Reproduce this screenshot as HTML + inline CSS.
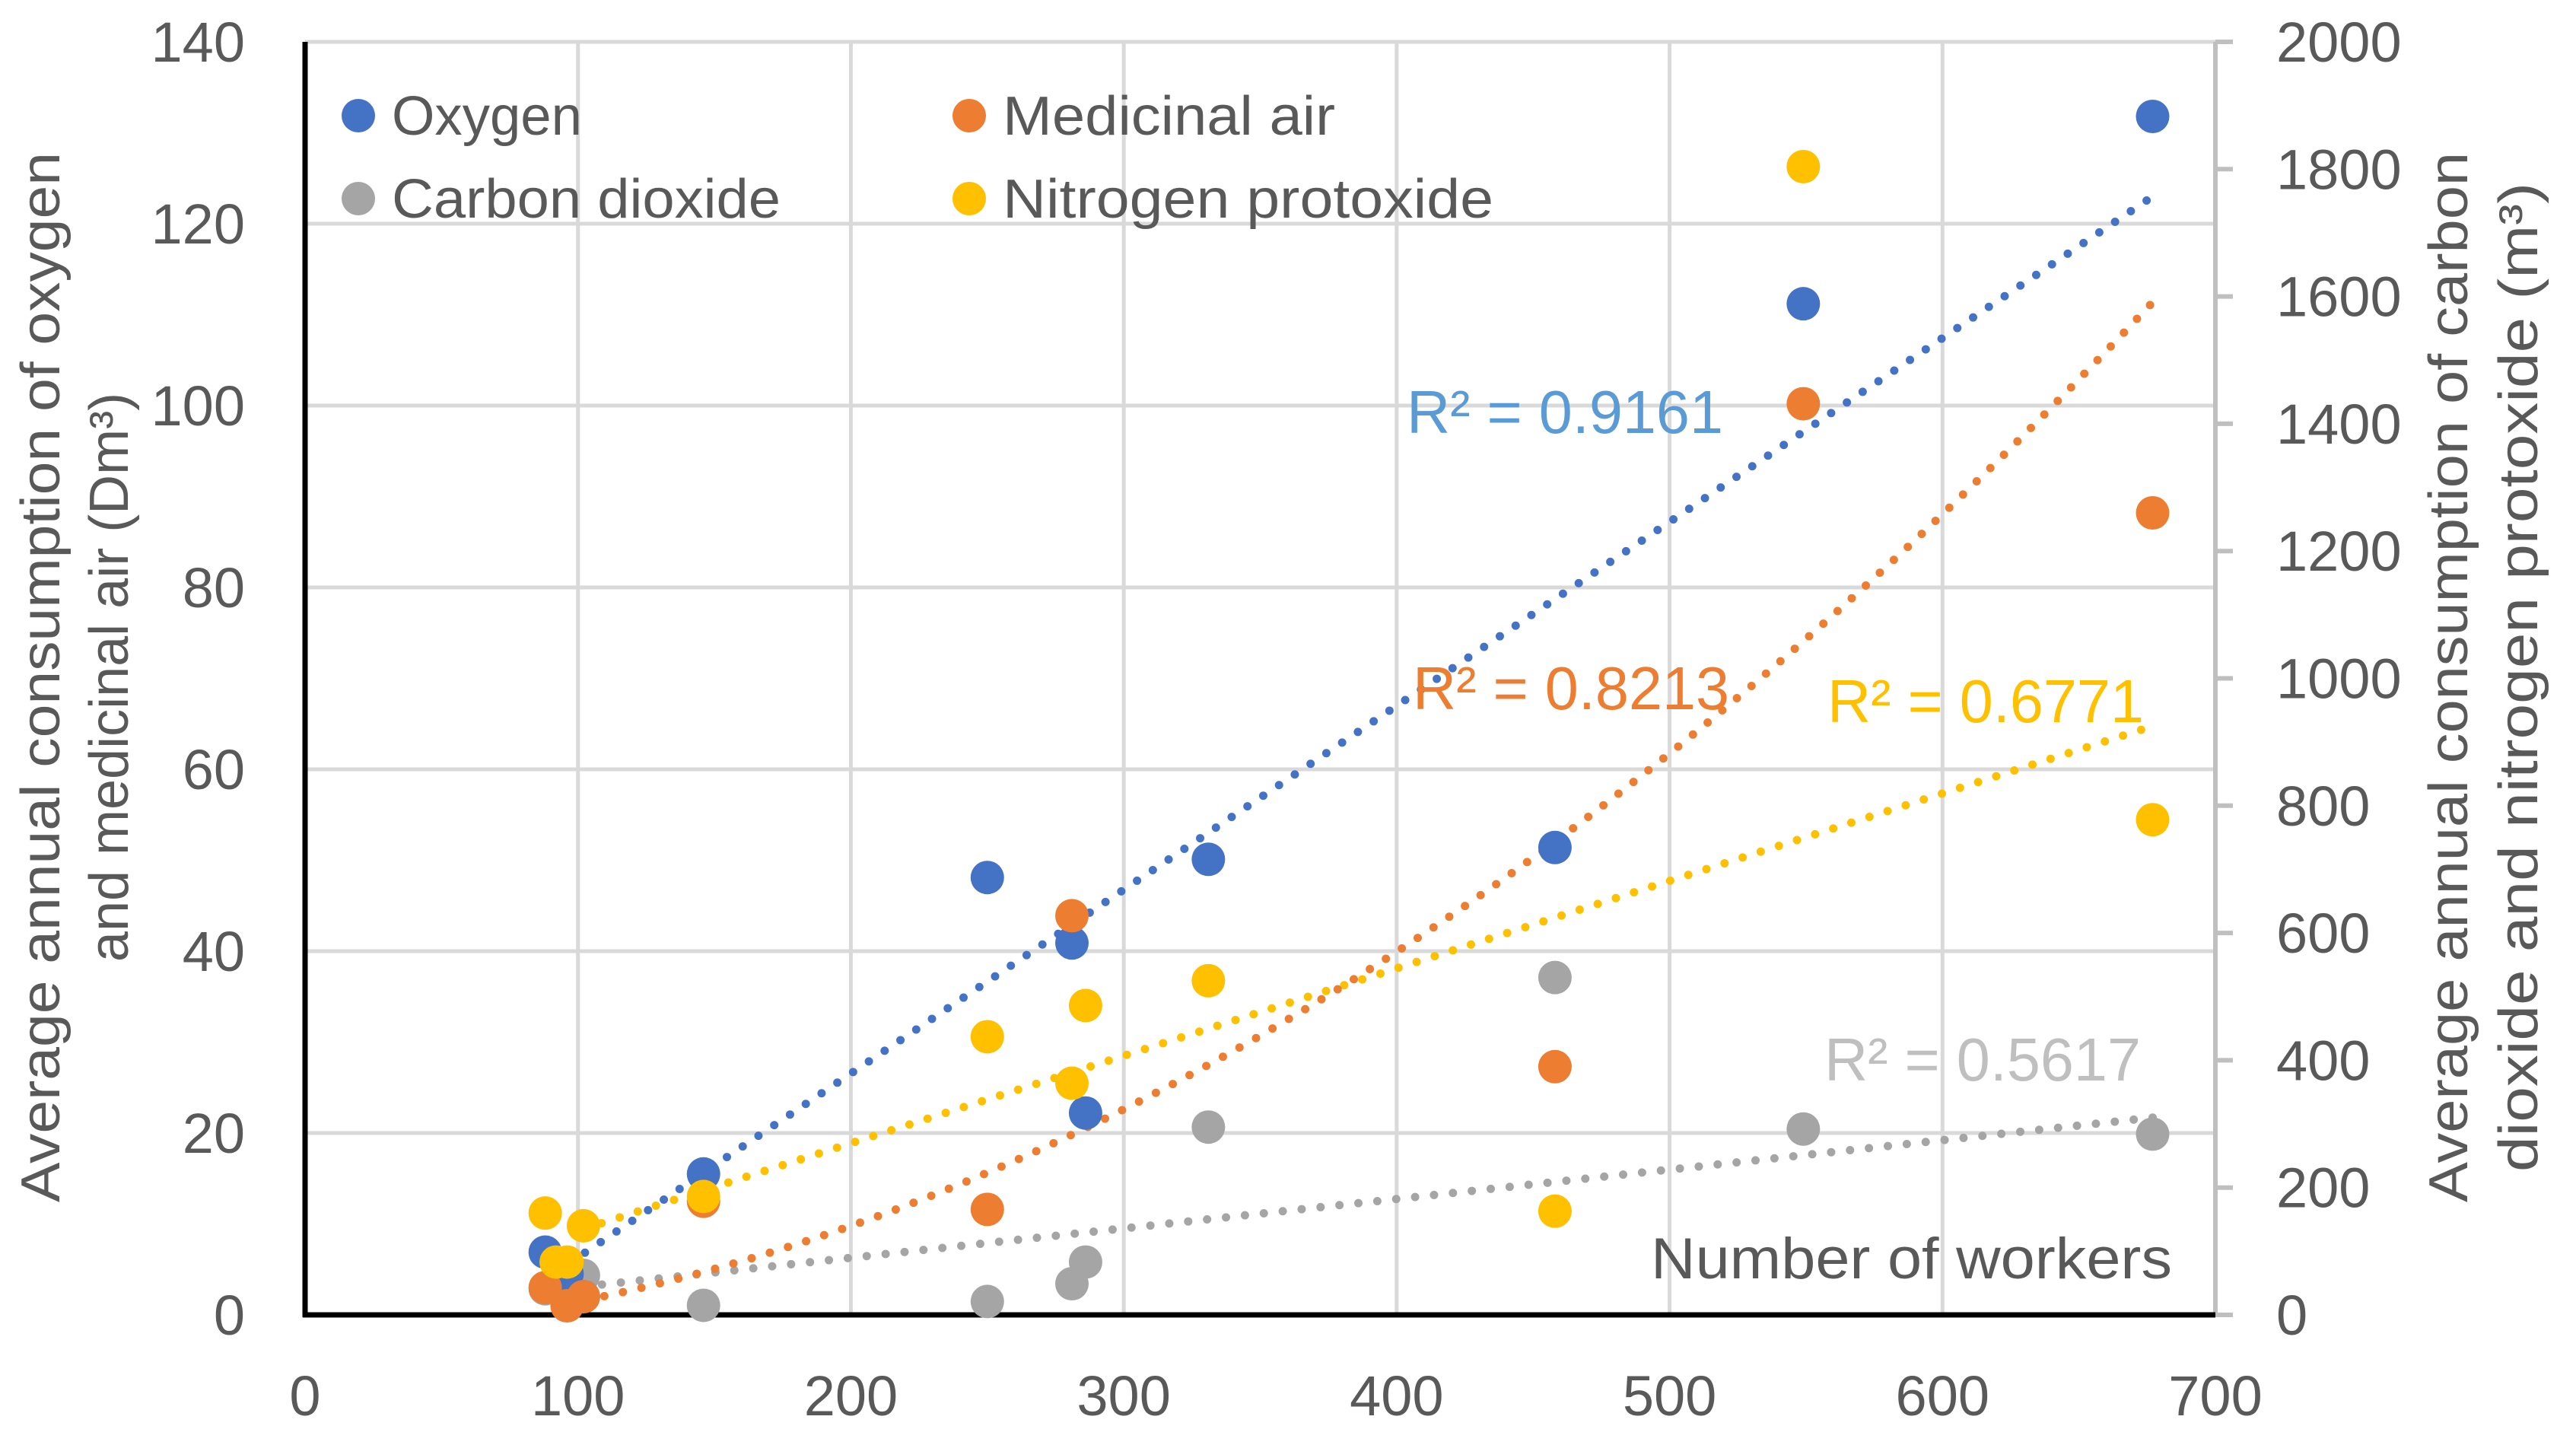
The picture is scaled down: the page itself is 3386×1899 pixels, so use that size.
<!DOCTYPE html>
<html><head><meta charset="utf-8"><style>
html,body{margin:0;padding:0;background:#fff;}
svg{display:block;font-family:"Liberation Sans",sans-serif;}
</style></head><body>
<svg id="chart" width="3386" height="1899" viewBox="0 0 3386 1899" xmlns="http://www.w3.org/2000/svg">
<g id="grid"></g>
<g id="axes"></g>
<g id="trends"></g>
<g id="marks"></g>
<g id="legend">
  <g><circle cx="471" cy="152" r="22" fill="#4472c4"/><text x="515" y="177" font-size="72" fill="#595959" textLength="250" lengthAdjust="spacingAndGlyphs">Oxygen</text></g>
  <g><circle cx="1274" cy="152" r="22" fill="#ed7d31"/><text x="1318" y="177" font-size="72" fill="#595959" textLength="437" lengthAdjust="spacingAndGlyphs">Medicinal air</text></g>
  <g><circle cx="471" cy="261" r="22" fill="#a5a5a5"/><text x="515" y="286" font-size="72" fill="#595959" textLength="511" lengthAdjust="spacingAndGlyphs">Carbon dioxide</text></g>
  <g><circle cx="1274" cy="261" r="22" fill="#ffc000"/><text x="1318" y="286" font-size="72" fill="#595959" textLength="645" lengthAdjust="spacingAndGlyphs">Nitrogen protoxide</text></g>
</g>
<text x="1849" y="569" font-size="80" fill="#5b9bd5" textLength="416" lengthAdjust="spacingAndGlyphs">R² = 0.9161</text>
<text x="1857" y="932" font-size="80" fill="#ed7d31" textLength="416" lengthAdjust="spacingAndGlyphs">R² = 0.8213</text>
<text x="2402" y="949" font-size="80" fill="#ffc000" textLength="416" lengthAdjust="spacingAndGlyphs">R² = 0.6771</text>
<text x="2398" y="1420" font-size="80" fill="#bfbfbf" textLength="416" lengthAdjust="spacingAndGlyphs">R² = 0.5617</text>
<text x="2170" y="1680" font-size="76" fill="#595959" textLength="685" lengthAdjust="spacingAndGlyphs">Number of workers</text>
<g font-size="72" fill="#595959" text-anchor="middle">
  <text transform="translate(78,890) rotate(-90)" textLength="1380" lengthAdjust="spacingAndGlyphs">Average annual consumption of oxygen</text>
  <text transform="translate(168,890) rotate(-90)">and medicinal air (Dm³)</text>
</g>
<g font-size="72" fill="#595959" text-anchor="middle">
  <text transform="translate(3243,890) rotate(-90)" textLength="1380" lengthAdjust="spacingAndGlyphs">Average annual consumption of carbon</text>
  <text transform="translate(3335,890) rotate(-90)" textLength="1300" lengthAdjust="spacingAndGlyphs">dioxide and nitrogen protoxide (m³)</text>
</g>
</svg>
<script>
const xTicks=[0,100,200,300,400,500,600,700];
const yLeftTicks=[0,20,40,60,80,100,120,140];
const yRightTicks=[0,200,400,600,800,1000,1200,1400,1600,1800,2000];
const oxygenX=[88,96,102,146,250,281,286,331,458,549,677];
const oxygenY=[6.9,4.5,2,15.5,48.1,40.9,22.2,50.1,51.4,111.2,131.8];
const airX=[88,96,102,146,250,281,458,549,677];
const airY=[3,1,2,12.5,11.6,43.9,27.3,100.2,88.2];
const co2X=[88,96,102,146,250,281,286,331,458,549,677];
const co2Y=[41,50,62,15,21,49,83,295,530,292,284];
const n2oX=[88,92,96,102,146,250,281,286,331,458,549,677];
const n2oY=[160,83,83,140,186,437,364,486,525,163,1804,778];
// trendline values
const trendOxygenX=[91,677];
const trendOxygenY=[4.5,123];
const trendAirX=[96,250,400,458,550,677];
const trendAirY=[1.5,15,40,52,75,111];
const trendCo2X=[88,677];
const trendCo2Y=[38,310];
const trendN2oX=[102,677];
const trendN2oY=[135,925];

const NS="http://www.w3.org/2000/svg";
const X0=401,X1=2912,YB=1728,YT=55;
const sx=v=>X0+(v-0)/(700-0)*(X1-X0);
const syL=v=>YB-v/140*(YB-YT);
const syR=v=>YB-v/2000*(YB-YT);
function mk(tag,attrs,parent){const e=document.createElementNS(NS,tag);for(const k in attrs)e.setAttribute(k,attrs[k]);parent.appendChild(e);return e;}
const grid=document.getElementById('grid'),axes=document.getElementById('axes'),trends=document.getElementById('trends'),marks=document.getElementById('marks');

xTicks.forEach(t=>{
  if(t>0&&t<700){const l=mk('line',{x1:sx(t),x2:sx(t),y1:YT,y2:YB,stroke:'#d9d9d9','stroke-width':5},grid);
  
  }
  const tx=mk('text',{x:sx(t),y:1860,'font-size':74,fill:'#595959','text-anchor':'middle'},axes);tx.textContent=t;
  
  
});
yLeftTicks.forEach(t=>{
  if(t>0){const l=mk('line',{x1:X0,x2:X1,y1:syL(t),y2:syL(t),stroke:'#d9d9d9','stroke-width':5},grid);
  
  }
  const tx=mk('text',{x:322,y:syL(t)+26,'font-size':74,fill:'#595959','text-anchor':'end'},axes);tx.textContent=t;
  
  
});
const ra=mk('line',{x1:X1,x2:X1,y1:YT,y2:YB,stroke:'#bfbfbf','stroke-width':6},axes);


yRightTicks.forEach(t=>{
  const tk=mk('line',{x1:X1,x2:X1+23,y1:syR(t),y2:syR(t),stroke:'#bfbfbf','stroke-width':6},axes);
  
  
  const tx=mk('text',{x:2992,y:syR(t)+26,'font-size':74,fill:'#595959'},axes);tx.textContent=t;
  
  
});
const la=mk('line',{x1:X0,x2:X0,y1:YT,y2:YB+3,stroke:'#000','stroke-width':7},axes);


const ba=mk('line',{x1:X0-3,x2:X1,y1:YB,y2:YB,stroke:'#000','stroke-width':7},axes);



function polyfit(xs,ys,deg){
  const n=deg+1,A=[],b=[];
  for(let i=0;i<n;i++){A.push([]);for(let j=0;j<n;j++){A[i].push(xs.reduce((s,x)=>s+Math.pow(x,i+j),0));}b.push(xs.reduce((s,x,k)=>s+Math.pow(x,i)*ys[k],0));}
  for(let i=0;i<n;i++){for(let k=i+1;k<n;k++){const f=A[k][i]/A[i][i];for(let j=i;j<n;j++)A[k][j]-=f*A[i][j];b[k]-=f*b[i];}}
  const c=new Array(n).fill(0);
  for(let i=n-1;i>=0;i--){let s=b[i];for(let j=i+1;j<n;j++)s-=A[i][j]*c[j];c[i]=s/A[i][i];}
  return x=>c.reduce((s,ci,i)=>s+ci*Math.pow(x,i),0);
}
function trend(xs,ys,deg,sy,color,name){
  const f=polyfit(xs,ys,deg),lo=Math.min(...xs),hi=Math.max(...xs);let d='';
  for(let i=0;i<=60;i++){const x=lo+(hi-lo)*i/60;d+=(i?'L':'M')+sx(x).toFixed(1)+','+sy(f(x)).toFixed(1);}
  const p=mk('path',{d:d,fill:'none',stroke:color,'stroke-width':11,'stroke-linecap':'round','stroke-dasharray':'0 25'},trends);
  
  
}
function points(xs,ys,sy,color,name){
  xs.forEach((x,i)=>{const c=mk('circle',{cx:sx(x),cy:sy(ys[i]),r:22,fill:color},marks);
  
  });
}
trend(trendCo2X,trendCo2Y,1,syR,'#a5a5a5','trendline-carbon-dioxide');
trend(trendN2oX,trendN2oY,1,syR,'#ffc000','trendline-nitrogen-protoxide');
trend(trendAirX,trendAirY,2,syL,'#ed7d31','trendline-medicinal-air');
trend(trendOxygenX,trendOxygenY,1,syL,'#4472c4','trendline-oxygen');
points(co2X,co2Y,syR,'#a5a5a5','point-carbon-dioxide');
points(oxygenX,oxygenY,syL,'#4472c4','point-oxygen');
points(airX,airY,syL,'#ed7d31','point-medicinal-air');
points(n2oX,n2oY,syR,'#ffc000','point-nitrogen-protoxide');
</script>
</body></html>
